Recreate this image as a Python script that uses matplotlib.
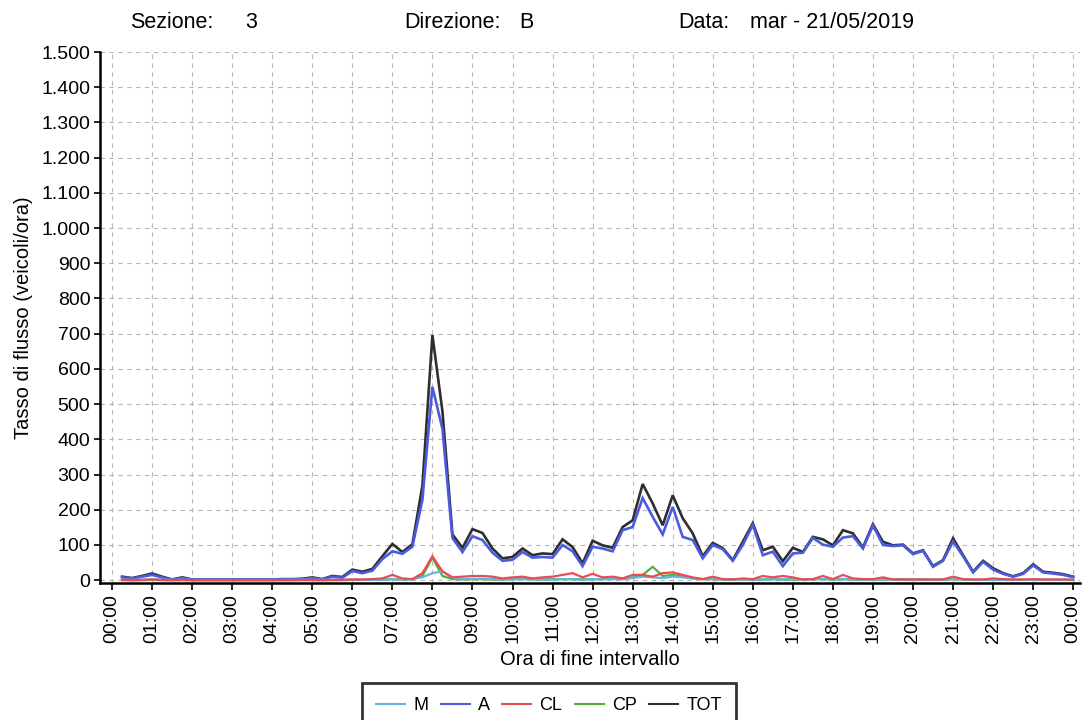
import matplotlib
matplotlib.use("Agg")
import matplotlib.pyplot as plt
from matplotlib.ticker import FixedLocator, FuncFormatter

plt.rcParams['font.family'] = ['Liberation Sans', 'DejaVu Sans']

# 15-minute intervals, end of interval in hours (00:15 ... 24:00)
hours = [(i + 1) * 0.25 for i in range(96)]

tot = [10, 6, 12, 19, 10, 2, 8, 2,
       2, 2, 2, 2, 2, 2, 2, 2,
       3, 3, 4, 8, 3, 12, 9, 30,
       24, 32, 68, 103, 80, 102, 268, 696,
       480, 130, 92, 145, 134, 90, 62, 66,
       90, 71, 76, 74, 116, 94, 48, 112,
       99, 92, 151, 170, 273, 218, 156, 241,
       176, 133, 68, 106, 91, 57, 109, 162,
       85, 95, 54, 92, 80, 123, 116, 99,
       142, 133, 93, 159, 109, 99, 101, 76,
       85, 40, 57, 119, 71, 24, 55, 34,
       20, 11, 20, 45, 24, 21, 17, 10]

auto = [8, 5, 10, 15, 8, 1, 6, 1,
        1, 1, 1, 1, 1, 1, 1, 1,
        2, 2, 3, 6, 2, 10, 7, 26,
        20, 27, 60, 82, 75, 95, 228, 549,
        430, 120, 80, 125, 114, 78, 55, 58,
        80, 64, 66, 64, 100, 82, 40, 95,
        90, 82, 142, 151, 233, 180, 130, 208,
        123, 114, 62, 100, 88, 55, 100, 157,
        71, 81, 40, 76, 78, 120, 101, 95,
        121, 125, 90, 155, 100, 97, 99, 74,
        83, 38, 55, 110, 68, 22, 52, 30,
        18, 10, 18, 42, 22, 19, 15, 9]

cl = [1, 0, 1, 2, 1, 0, 1, 0,
      0, 0, 0, 0, 0, 0, 0, 0,
      0, 0, 1, 1, 0, 1, 1, 2,
      2, 3, 5, 15, 5, 3, 20, 68,
      25, 8, 10, 12, 12, 10, 5, 8,
      10, 5, 8, 10, 15, 20, 8, 18,
      8, 10, 5, 15, 15, 10, 20, 22,
      15, 8, 3, 10, 3, 2, 5, 3,
      12, 8, 12, 8, 2, 3, 12, 3,
      15, 5, 3, 3, 8, 2, 2, 2,
      2, 2, 2, 10, 3, 2, 2, 5,
      3, 2, 2, 3, 2, 2, 2, 1]

cp = [0, 0, 0, 1, 0, 0, 0, 0,
      0, 0, 0, 0, 0, 0, 0, 0,
      0, 0, 0, 0, 0, 0, 0, 1,
      1, 1, 2, 3, 2, 3, 12, 64,
      12, 3, 2, 3, 3, 2, 2, 3,
      5, 3, 2, 3, 3, 3, 2, 3,
      3, 4, 3, 8, 15, 38, 12, 15,
      10, 5, 3, 3, 2, 2, 3, 2,
      2, 3, 2, 2, 2, 3, 3, 2,
      3, 2, 2, 2, 2, 2, 3, 2,
      2, 1, 2, 3, 2, 1, 1, 2,
      1, 1, 1, 1, 1, 1, 1, 1]

moto = [1, 1, 1, 2, 1, 1, 1, 1,
        1, 1, 1, 1, 1, 1, 1, 1,
        1, 1, 1, 1, 1, 1, 1, 1,
        1, 1, 1, 3, 2, 3, 8, 20,
        25, 6, 3, 4, 4, 3, 2, 2,
        3, 2, 2, 2, 3, 3, 2, 3,
        3, 3, 3, 6, 10, 8, 6, 10,
        8, 5, 3, 3, 2, 2, 2, 2,
        2, 3, 2, 3, 3, 3, 3, 2,
        3, 3, 2, 2, 2, 2, 2, 2,
        2, 1, 2, 3, 2, 1, 1, 1,
        1, 1, 1, 1, 1, 1, 1, 1]

series_names = ["M", "A", "CL", "CP", "TOT"]
series_colors = ["#62b6e6", "#4b5be0", "#ea4c50", "#58ac3c", "#2e2e2e"]
hour_labels = ["%02d:00" % (h % 24) for h in range(25)]
y_ticks = list(range(0, 1501, 100))

fig = plt.figure(figsize=(10.85, 7.2), dpi=100)
ax = fig.add_axes([100 / 1085, 1 - 583 / 720, 980 / 1085, (583 - 52) / 720])

data = [moto, auto, cl, cp, tot]
zorders = [6, 4, 6, 5, 3]
handles = []
for name, vals, col, z in zip(series_names, data, series_colors, zorders):
    lw = 1.9 if name in ("A", "TOT") else 1.6
    h, = ax.plot(hours, vals, color=col, lw=lw, zorder=z, label=name,
                 solid_joinstyle="miter")
    handles.append(h)

ax.set_xlim(-0.3, 24.17)
ax.set_ylim(-8, 1500)
ax.xaxis.set_major_locator(FixedLocator(list(range(25))))
ax.set_xticklabels(hour_labels, rotation=90, fontsize=14)
ax.yaxis.set_major_locator(FixedLocator(y_ticks))
ax.yaxis.set_major_formatter(
    FuncFormatter(lambda v, p: "{:,}".format(int(v)).replace(",", ".")))
ax.tick_params(axis="y", labelsize=14, length=4, width=1.2, pad=3)
ax.tick_params(axis="x", length=5, width=1.2, pad=3)

ax.grid(True, color="#b8b8b8", linestyle=(0, (4, 4)), linewidth=0.8)
ax.set_axisbelow(True)
for side in ("top", "right"):
    ax.spines[side].set_visible(False)
for side in ("left", "bottom"):
    ax.spines[side].set_linewidth(1.8)

ax.set_ylabel("Tasso di flusso (veicoli/ora)", fontsize=14.5, labelpad=6)
ax.set_xlabel("Ora di fine intervallo", fontsize=14.5, labelpad=5)

# header line
hy = 1 - 22 / 720
for xpx, txt in [(130, "Sezione:"), (245, "3"), (404, "Direzione:"),
                 (519, "B"), (678, "Data:"), (750, "mar - 21/05/2019")]:
    fig.text(xpx / 1085, hy, txt, fontsize=15.5, va="center")

leg = fig.legend(handles=handles, labels=series_names, loc="upper center",
                 bbox_to_anchor=(0.506, 1 - 683 / 720), ncol=5, fontsize=13,
                 frameon=True, fancybox=False, handlelength=1.6,
                 handletextpad=0.45, columnspacing=0.7, borderpad=0.8,
                 borderaxespad=0.0)
leg.get_frame().set_edgecolor("black")
leg.get_frame().set_linewidth(2.0)
for ln in leg.get_lines():
    ln.set_linewidth(1.5)

fig.savefig("out.png", dpi=100)
